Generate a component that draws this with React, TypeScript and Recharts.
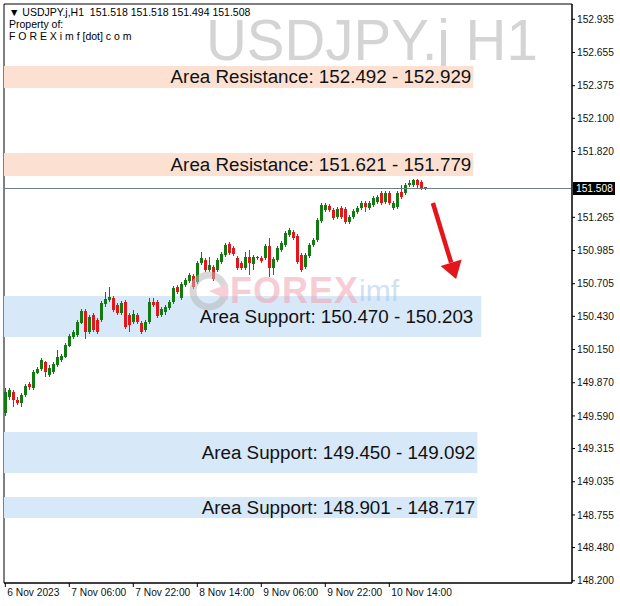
import React from 'react';
import { ComposedChart, Bar, XAxis, YAxis, ReferenceArea, ReferenceLine } from 'recharts';

// USDJPY.j H1 candles (first bar 6 Nov 14:00)
const opens = [
  149.615, 149.75, 149.792, 149.725, 149.7, 149.767, 149.86, 149.826, 149.953, 149.986,
  150.045, 149.936, 149.961, 150.02, 150.062, 150.087, 150.18, 150.256, 150.273, 150.374,
  150.475, 150.298, 150.441, 150.399, 150.399, 150.534, 150.568, 150.585, 150.526, 150.458,
  150.551, 150.441, 150.382, 150.441, 150.374, 150.315, 150.382, 150.551, 150.551, 150.441,
  150.467, 150.5, 150.551, 150.677, 150.585, 150.694, 150.728, 150.771, 150.72, 150.88,
  150.905, 150.821, 150.846, 150.821, 150.888, 150.947, 151.04, 151.007, 150.922, 150.88,
  150.838, 150.93, 150.871, 150.922, 150.922, 150.922, 151.024, 150.838, 150.905, 150.99,
  151.032, 151.116, 151.141, 151.108, 150.947, 150.846, 150.939, 151.032, 151.074, 151.234,
  151.327, 151.36, 151.327, 151.268, 151.344, 151.335, 151.225, 151.268, 151.31, 151.344,
  151.386, 151.344, 151.369, 151.394, 151.47, 151.394, 151.47, 151.344, 151.352, 151.479,
  151.47, 151.538, 151.538, 151.58, 151.563, 151.518,
];
const highs = [
  149.826, 149.826, 149.809, 149.75, 149.784, 149.86, 149.876, 149.978, 150.003, 150.079,
  150.054, 150.02, 150.045, 150.146, 150.112, 150.205, 150.281, 150.315, 150.399, 150.492,
  150.492, 150.441, 150.458, 150.416, 150.56, 150.635, 150.677, 150.602, 150.543, 150.56,
  150.568, 150.458, 150.484, 150.458, 150.391, 150.399, 150.585, 150.585, 150.568, 150.509,
  150.526, 150.568, 150.686, 150.694, 150.72, 150.754, 150.796, 150.787, 150.897, 150.973,
  150.922, 150.93, 150.863, 150.922, 150.973, 151.049, 151.057, 151.024, 150.939, 150.897,
  150.973, 150.99, 150.947, 150.939, 150.939, 151.04, 151.091, 150.93, 151.024, 151.066,
  151.15, 151.175, 151.158, 151.125, 150.964, 150.964, 151.049, 151.091, 151.259, 151.386,
  151.386, 151.377, 151.344, 151.352, 151.36, 151.352, 151.285, 151.335, 151.36, 151.403,
  151.403, 151.403, 151.445, 151.453, 151.487, 151.487, 151.487, 151.403, 151.487, 151.538,
  151.555, 151.58, 151.588, 151.588, 151.58, 151.518,
];
const lows = [
  149.59, 149.725, 149.666, 149.683, 149.666, 149.75, 149.809, 149.809, 149.944, 149.97,
  149.919, 149.919, 149.944, 150.003, 150.045, 150.079, 150.172, 150.239, 150.256, 150.365,
  150.239, 150.281, 150.298, 150.281, 150.382, 150.509, 150.551, 150.467, 150.441, 150.441,
  150.323, 150.298, 150.365, 150.365, 150.281, 150.298, 150.365, 150.509, 150.416, 150.424,
  150.441, 150.484, 150.534, 150.618, 150.568, 150.677, 150.711, 150.661, 150.703, 150.863,
  150.804, 150.804, 150.728, 150.804, 150.871, 150.93, 150.947, 150.939, 150.821, 150.821,
  150.821, 150.779, 150.821, 150.905, 150.88, 150.905, 150.762, 150.779, 150.888, 150.973,
  151.015, 151.099, 151.074, 150.871, 150.804, 150.829, 150.922, 151.015, 151.057, 151.217,
  151.31, 151.31, 151.242, 151.251, 151.251, 151.209, 151.209, 151.251, 151.293, 151.327,
  151.31, 151.327, 151.352, 151.377, 151.369, 151.377, 151.369, 151.327, 151.335, 151.42,
  151.453, 151.521, 151.521, 151.513, 151.496, 151.494,
];
const closes = [
  149.792, 149.809, 149.725, 149.7, 149.767, 149.843, 149.834, 149.961, 149.986, 150.062,
  149.961, 149.995, 150.028, 150.087, 150.096, 150.189, 150.264, 150.298, 150.382, 150.475,
  150.298, 150.424, 150.315, 150.298, 150.543, 150.576, 150.593, 150.484, 150.458, 150.543,
  150.34, 150.357, 150.45, 150.382, 150.298, 150.382, 150.551, 150.526, 150.433, 150.492,
  150.509, 150.551, 150.669, 150.635, 150.703, 150.737, 150.779, 150.677, 150.88, 150.922,
  150.821, 150.863, 150.745, 150.905, 150.956, 151.032, 150.964, 150.956, 150.838, 150.838,
  150.93, 150.88, 150.93, 150.93, 150.897, 151.024, 150.838, 150.913, 151.007, 151.049,
  151.133, 151.158, 151.091, 150.888, 150.821, 150.947, 151.032, 151.074, 151.242, 151.369,
  151.369, 151.327, 151.259, 151.335, 151.268, 151.225, 151.268, 151.318, 151.344, 151.386,
  151.352, 151.386, 151.428, 151.437, 151.386, 151.47, 151.386, 151.386, 151.47, 151.437,
  151.538, 151.555, 151.58, 151.538, 151.513, 151.508,
];

const xTickIndex = [0, 16, 32, 48, 64, 80, 96];
const xTickLabels = ['6 Nov 2023', '7 Nov 06:00', '7 Nov 22:00', '8 Nov 14:00', '9 Nov 06:00', '9 Nov 22:00', '10 Nov 14:00'];
const priceTicks = [
  152.935, 152.655, 152.375, 152.1, 151.82, 151.265, 150.985, 150.705, 150.43,
  150.15, 149.87, 149.59, 149.315, 149.035, 148.755, 148.48, 148.2,
];

const zoneNames = ['Area Resistance', 'Area Resistance', 'Area Support', 'Area Support', 'Area Support'];
const zoneFrom = ['152.492', '151.621', '150.470', '149.450', '148.901'];
const zoneTo = ['152.929', '151.779', '150.203', '149.092', '148.717'];
// where each box is actually drawn on the chart
const zoneHigh = [152.541, 151.807, 150.601, 149.454, 148.906];
const zoneLow = [152.356, 151.613, 150.256, 149.108, 148.729];
const zoneEndBar = [117, 117, 119, 118, 118];

const lastPrice = 151.508;
const arrowFrom = { x: 106.9, y: 151.386 };
const arrowTo = { x: 112.7, y: 150.745 };

const X_DOMAIN = [-0.325, 141.675];
const Y_DOMAIN = [148.181, 153.064];

const GREEN = '#137a13';
const RED = '#e3161c';
const FONT = '"Liberation Sans", Arial, sans-serif';

const data = opens.map((open, i) => ({
  i,
  open,
  high: highs[i],
  low: lows[i],
  close: closes[i],
  range: [lows[i], highs[i]],
}));

function Candle(props: any) {
  const { x, y, width, height, payload } = props;
  if (x == null || !payload) return null;
  const top = Math.min(y, y + height);
  const bottom = Math.max(y, y + height);
  const { open, close, high, low } = payload;
  const span = high - low;
  const toY = (v: number) => (span > 0 ? top + ((high - v) / span) * (bottom - top) : top);
  const cx = Math.floor(x + width / 2) + 0.5;
  const color = close >= open ? GREEN : RED;
  const bTop = toY(Math.max(open, close));
  const bBot = toY(Math.min(open, close));
  return (
    <g shapeRendering="crispEdges">
      <line x1={cx} x2={cx} y1={top} y2={bottom} stroke={color} strokeWidth={1} />
      <rect x={cx - 1.5} y={bTop} width={3} height={Math.max(1, bBot - bTop)} fill={color} />
    </g>
  );
}

function ZoneBox(props: any) {
  const { x, y, width, height, idx } = props;
  const support = zoneNames[idx].includes('Support');
  return (
    <g>
      <rect x={x} y={y} width={width} height={height} fill={support ? '#d7e8f8' : '#fce1d3'} />
      <text
        x={x + width - (idx === 2 ? 8 : 2)}
        y={y + height / 2}
        textAnchor="end"
        dominantBaseline="central"
        fontFamily={FONT}
        fontSize={18.8}
        fill="#111"
      >
        {`${zoneNames[idx]}: ${zoneFrom[idx]} - ${zoneTo[idx]}`}
      </text>
    </g>
  );
}

function PriceLine(props: any) {
  const { x1, y1, x2 } = props;
  if (x1 == null) return null;
  const left = Math.min(x1, x2);
  const right = Math.max(x1, x2);
  return (
    <g>
      <line x1={left} x2={right} y1={y1} y2={y1} stroke="#6f7f87" strokeWidth={1} shapeRendering="crispEdges" />
      <rect x={right + 1} y={y1 - 6.5} width={42} height={13} fill="#000" />
      <text x={right + 4} y={y1} dominantBaseline="central" fontFamily={FONT} fontSize={10.2} fill="#fff">
        {lastPrice.toFixed(3)}
      </text>
    </g>
  );
}

function Arrow(props: any) {
  const { x1, y1, x2, y2 } = props;
  if (x1 == null) return null;
  const dx = x2 - x1;
  const dy = y2 - y1;
  const len = Math.sqrt(dx * dx + dy * dy);
  const ux = dx / len;
  const uy = dy / len;
  const bx = x2 - ux * 17;
  const by = y2 - uy * 17;
  const nx = -uy;
  const ny = ux;
  return (
    <g>
      <line x1={x1} y1={y1} x2={bx} y2={by} stroke={RED} strokeWidth={4.5} />
      <polygon
        points={`${x2},${y2} ${bx + nx * 11},${by + ny * 11} ${bx - nx * 11},${by - ny * 11}`}
        fill={RED}
      />
    </g>
  );
}

function TimeTick(props: any) {
  const { x, y, payload } = props;
  const k = xTickIndex.indexOf(payload.value);
  return (
    <text x={x + 2} y={y} dy="0.71em" textAnchor="start" fontFamily={FONT} fontSize={10.2} fill="#111">
      {xTickLabels[k]}
    </text>
  );
}

export default function App() {
  return (
    <div style={{ position: 'absolute', left: 0, top: 0, width: 620, height: 606, background: '#fff', overflow: 'hidden' }}>
      <div
        style={{
          position: 'absolute',
          left: 206,
          top: 13,
          fontFamily: FONT,
          fontSize: 56.5,
          lineHeight: '56px',
          color: '#d4d4d4',
          whiteSpace: 'pre',
        }}
      >
        USDJPY.j H1
      </div>
      <div style={{ position: 'absolute', left: 0, top: 0 }}>
        <ComposedChart width={620} height={606} data={data} margin={{ top: 4, right: 0, bottom: 0, left: 4 }}>
          <XAxis
            type="number"
            dataKey="i"
            domain={X_DOMAIN}
            allowDataOverflow
            ticks={xTickIndex}
            interval={0}
            height={23}
            tickSize={4}
            tickMargin={2}
            axisLine={{ stroke: '#000' }}
            tickLine={{ stroke: '#000' }}
            tick={<TimeTick />}
          />
          <YAxis
            orientation="right"
            type="number"
            domain={Y_DOMAIN}
            allowDataOverflow
            ticks={priceTicks}
            interval={0}
            width={48}
            tickSize={3}
            tickMargin={2}
            axisLine={{ stroke: '#000' }}
            tickLine={{ stroke: '#000' }}
            tick={{ fontSize: 10.2, fill: '#111', fontFamily: FONT }}
            tickFormatter={(v: number) => v.toFixed(3)}
          />
          <ReferenceArea
            x1={X_DOMAIN[0]}
            x2={X_DOMAIN[1]}
            y1={Y_DOMAIN[0]}
            y2={Y_DOMAIN[1]}
            fill="none"
            stroke="#000"
            strokeWidth={1}
          />
          {zoneNames.map((_, idx) => (
            <ReferenceArea
              key={idx}
              x1={X_DOMAIN[0]}
              x2={zoneEndBar[idx]}
              y1={zoneLow[idx]}
              y2={zoneHigh[idx]}
              shape={(p: any) => <ZoneBox {...p} idx={idx} />}
            />
          ))}
          <ReferenceLine y={lastPrice} shape={(p: any) => <PriceLine {...p} />} />
          <Bar dataKey="range" barSize={4} isAnimationActive={false} shape={(p: any) => <Candle {...p} />} />
          <ReferenceLine segment={[arrowFrom, arrowTo]} shape={(p: any) => <Arrow {...p} />} />
        </ComposedChart>
      </div>
      <div
        style={{
          position: 'absolute',
          left: 188,
          top: 270,
          display: 'flex',
          alignItems: 'center',
          opacity: 0.55,
          pointerEvents: 'none',
        }}
      >
        <svg width={42} height={42}>
          <circle cx={21} cy={21} r={16} fill="none" stroke="#b9b9b9" strokeWidth={7} />
          <path d="M21 21 L40 14 L40 30 Z" fill="#f2a9b8" />
        </svg>
        <span style={{ fontFamily: FONT, fontWeight: 700, fontSize: 36, color: '#f0a3b3', letterSpacing: 1 }}>FOREX</span>
        <span style={{ fontFamily: FONT, fontSize: 30, color: '#a9c9ea' }}>imf</span>
      </div>
      <div style={{ position: 'absolute', left: 9, top: 6, fontFamily: FONT, fontSize: 10.5, lineHeight: '12px', color: '#000', whiteSpace: 'pre' }}>
        {`\u25BC USDJPY.j,H1  151.518 151.518 151.494 151.508\nProperty of:\nF O R E X i m f [dot] c o m`}
      </div>
    </div>
  );
}
